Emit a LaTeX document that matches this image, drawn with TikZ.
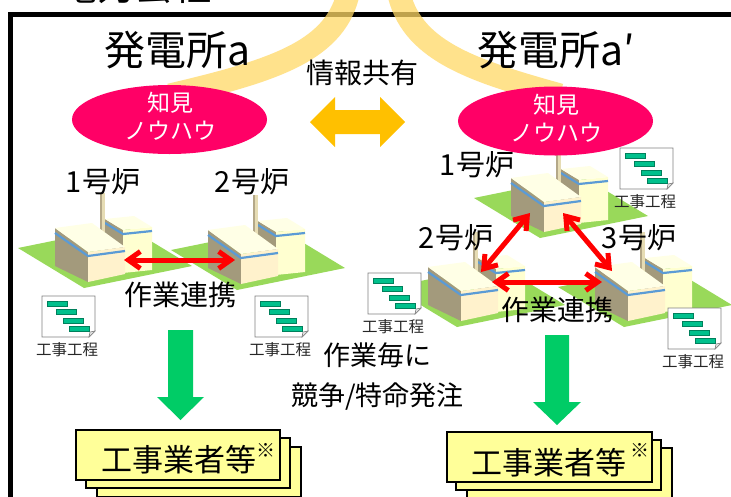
\documentclass[tikz,border=0pt]{standalone}
\usepackage{fontspec}
\setmainfont{Noto Sans CJK JP}
\usetikzlibrary{arrows.meta,shapes.geometric}
\definecolor{pinkE}{HTML}{FF0066}
\definecolor{orangeA}{HTML}{FFC000}
\definecolor{greenA}{HTML}{00CC66}
\definecolor{bandC}{HTML}{FFD966}
\definecolor{grndC}{HTML}{99D95A}
\definecolor{khakiC}{HTML}{A39A7C}
\definecolor{creamF}{HTML}{FFF2CC}
\definecolor{creamR}{HTML}{FFFFD0}
\definecolor{topC}{HTML}{FFFFE6}
\definecolor{stripeC}{HTML}{5B9BD5}
\definecolor{chimC}{HTML}{E6DCB4}
\definecolor{chimD}{HTML}{B4A888}
\definecolor{boxY}{HTML}{FFFF99}
\definecolor{barC}{HTML}{00C08C}
\definecolor{barD}{HTML}{00805C}
\newcommand\myfs[1]{\fontsize{#1}{#1}\selectfont}
\tikzset{
  txt/.style={inner sep=0pt, anchor=center},
  stripe/.style={draw=stripeC, line width=2.2pt},
  plant/.pic={
    \fill[grndC] (-70,-34) -- (38,-56) -- (104,-16) -- (-4,6) -- cycle;
    \fill[khakiC] (17,-63) -- (35,-52) -- (35,-9) -- (17,-20) -- cycle;
    \fill[creamR] (35,-52) -- (64,-55) -- (64,-12) -- (35,-9) -- cycle;
    \fill[topC] (17,-63) -- (46,-66) -- (64,-55) -- (35,-52) -- cycle;
    \draw[stripe] (17,-59) -- (35,-48) -- (64,-51);
    \fill[chimC] (12,-89) rectangle (17,-50);
    \fill[chimD] (12,-89) rectangle (13.5,-50);
    \fill[khakiC] (-33,-54) -- (0,-30) -- (0,0) -- (-33,-16) -- cycle;
    \fill[creamF] (0,-30) -- (37,-35) -- (37,-8) -- (0,0) -- cycle;
    \fill[topC] (-33,-54) -- (4,-59) -- (37,-35) -- (0,-30) -- cycle;
    \draw[stripe] (-33,-49) -- (0,-26) -- (37,-31);
  },
  docbar/.style={fill=barC, draw=barD, line width=0.6pt},
  docicon/.pic={
    \draw[gray, line width=0.8pt, fill=white] (0,0) -- (53,0) -- (53,35) -- (47,41) -- (0,41) -- cycle;
    \draw[gray, line width=0.6pt, fill=gray!20] (47,41) -- (48,36) -- (53,35) -- cycle;
    \draw[docbar] (5,5) rectangle (25,10);
    \draw[docbar] (14,13) rectangle (34,18);
    \draw[docbar] (21,22) rectangle (41,27);
    \draw[docbar] (27,30) rectangle (47,35);
    \node[txt, font=\myfs{15.5}, text=black!85] at (25,54) {工事工程};
  },
  rarrow/.style={draw=red, line width=5pt, line cap=round,
    {Straight Barb[length=12pt,width=17pt]}-{Straight Barb[length=12pt,width=17pt]}},
  ybox/.style={draw=black, line width=2pt, fill=boxY},
}
\begin{document}
\begin{tikzpicture}[x=1pt,y=-1pt]
\useasboundingbox (0,0) rectangle (731,496);
\clip (0,0) rectangle (731,496);
\fill[white] (0,0) rectangle (731,496);
% cut-off title
\node[anchor=base, inner sep=0pt, font=\myfs{38}] (title) at (135,0) {電力会社};
% frame
\draw[line width=5pt] (10,14) rectangle (770,530);
% information sharing bands
\draw[bandC, line width=23pt, opacity=0.75] (349,-10) .. controls (337,50) and (277,70) .. (170,95);
\draw[bandC, line width=23pt, opacity=0.75] (398,-10) .. controls (410,50) and (470,70) .. (560,95);
% plants, left site
\pic at (88,282) {plant};
\pic at (241,284) {plant};
% plants, right site
\pic at (544,232) {plant};
\pic at (461,321) {plant};
\pic at (628,321) {plant};
% knowledge ellipses
\node[ellipse, fill=pinkE, minimum width=195pt, minimum height=69pt, inner sep=0pt] (kL) at (169.5,119.5) {};
\node[ellipse, fill=pinkE, minimum width=195pt, minimum height=69pt, inner sep=0pt] (kR) at (555.5,121) {};
\node[txt, font=\myfs{23}, text=white] (kL1) at (170,103) {知見};
\node[txt, font=\myfs{23}, text=white] (kL2) at (170,131) {ノウハウ};
\node[txt, font=\myfs{23}, text=white] (kR1) at (556.5,105) {知見};
\node[txt, font=\myfs{23}, text=white] (kR2) at (556.5,132.5) {ノウハウ};
% site titles
\node[txt, font=\myfs{41}] (sA) at (178,50) {発電所a};
\node[txt, font=\myfs{41}] (sB) at (556,50) {発電所a′};
% info sharing
\node[txt, font=\myfs{28}] (info) at (362.5,72.5) {情報共有};
\fill[orangeA] (310,122) -- (335,97) -- (335,110) -- (380,110) -- (380,97) -- (405,122)
  -- (380,147) -- (380,134) -- (335,134) -- (335,147) -- cycle;
% reactor labels
\node[txt, font=\myfs{29}] (L1) at (103,182) {1号炉};
\node[txt, font=\myfs{29}] (L2) at (252,182) {2号炉};
\node[txt, font=\myfs{29}] (R1) at (477,165) {1号炉};
\node[txt, font=\myfs{29}] (R2) at (456,238) {2号炉};
\node[txt, font=\myfs{29}] (R3) at (639,238) {3号炉};
% cooperation arrows
\coordinate (a1) at (124,260);
\coordinate (a2) at (235,260);
\draw[rarrow] (a1) -- (a2);
\coordinate (b1) at (530,213);
\coordinate (b2) at (481,272);
\coordinate (b3) at (563,213);
\coordinate (b4) at (612,271);
\coordinate (b5) at (492,282);
\coordinate (b6) at (602,282);
\draw[rarrow] (b1) -- (b2);
\draw[rarrow] (b3) -- (b4);
\draw[rarrow] (b5) -- (b6);
\node[txt, font=\myfs{28}] (coopL) at (180,295) {作業連携};
\node[txt, font=\myfs{28}] (coopR) at (557,310) {作業連携};
% schedule documents
\pic at (42,296) {docicon};
\pic at (255,296) {docicon};
\pic at (620,148) {docicon};
\pic at (368,273) {docicon};
\pic at (668,308) {docicon};
% middle text
\node[txt, font=\myfs{27}] (m1) at (377.5,355.5) {作業毎に};
\node[txt, font=\myfs{27}] (m2) at (377.5,396.5) {競争/特命発注};
% green arrows
\fill[greenA] (168,330) -- (193,330) -- (193,397) -- (204,397) -- (180.5,420) -- (157,397) -- (168,397) -- cycle;
\fill[greenA] (545,335) -- (569,335) -- (569,402) -- (581,402) -- (557,425) -- (533,402) -- (545,402) -- cycle;
% contractor boxes
\draw[ybox] (97,447) rectangle (301,497);
\draw[ybox] (86,438) rectangle (290,488);
\draw[ybox] (76,430) rectangle (280,480);
\node[txt, font=\myfs{31}] (cL) at (178.5,460) {工事業者等};
\node[txt, font=\myfs{19}] (sL) at (266,450) {※};
\draw[ybox] (467,448) rectangle (672,498);
\draw[ybox] (456,440) rectangle (661,490);
\draw[ybox] (447,432) rectangle (652,482);
\node[txt, font=\myfs{31}] (cR) at (548.5,463) {工事業者等};
\node[txt, font=\myfs{19}] (sR) at (640,450) {※};
\end{tikzpicture}
\end{document}
